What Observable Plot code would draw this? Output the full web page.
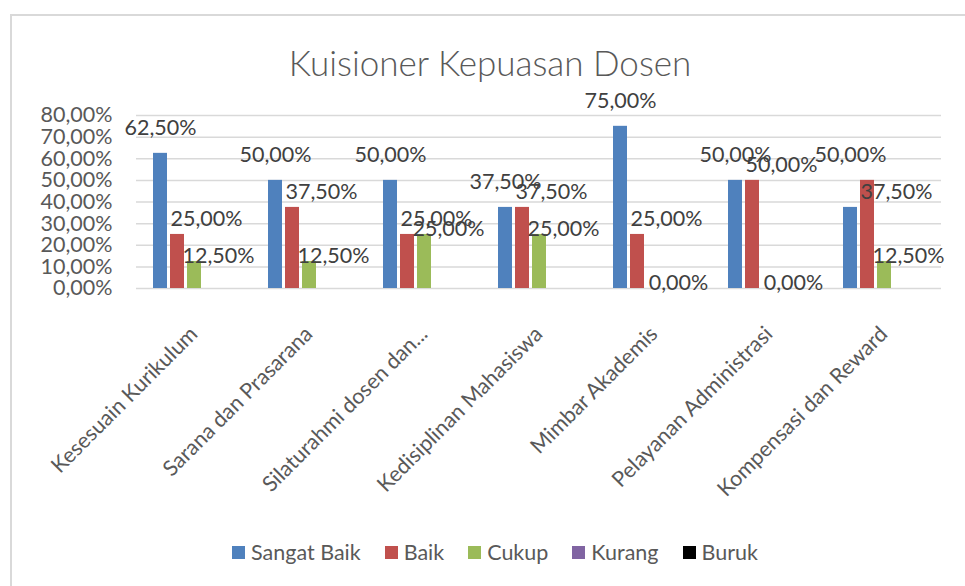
<!DOCTYPE html>
<html>
<head>
<meta charset="utf-8">
<script src="https://cdn.jsdelivr.net/npm/d3@7"></script>
<script src="https://cdn.jsdelivr.net/npm/@observablehq/plot@0.6"></script>
<style>
  html, body { margin: 0; padding: 0; background: #fff; }
  body { width: 965px; height: 586px; position: relative; overflow: hidden; font-family: Lato, "Open Sans", sans-serif; }
  #frame { position: absolute; left: 10px; top: 14px; width: 1000px; height: 1000px; border-left: 2px solid #d9d9d9; border-top: 2px solid #d9d9d9; }
  #title { position: absolute; left: 0; width: 980px; top: 39px; text-align: center; font-size: 35px; font-weight: 300; color: #595959; line-height: 46px; }
  #chart { position: absolute; left: 0; top: 80px; }
  #legend { position: absolute; left: 0; width: 990px; top: 539px; display: flex; justify-content: center; align-items: center; font-size: 21.5px; color: #595959; }
  .item { display: flex; align-items: center; margin: 0 12px; }
  .sw { width: 13px; height: 13px; margin-right: 6px; }
</style>
</head>
<body>
<div id="frame"></div>
<div id="title">Kuisioner Kepuasan Dosen</div>
<div id="chart"></div>
<div id="legend"></div>
<script>
const categories = ["Kesesuain Kurikulum", "Sarana dan Prasarana", "Silaturahmi dosen dan...", "Kedisiplinan Mahasiswa", "Mimbar Akademis", "Pelayanan Administrasi", "Kompensasi dan Reward"];
const series = ["Sangat Baik", "Baik", "Cukup", "Kurang", "Buruk"];
const colors = ["#4F81BD", "#C0504D", "#9BBB59", "#8064A2", "#000000"];

const sangatBaik = [62.5, 50, 50, 37.5, 75, 50, 37.5];
const baik = [25, 37.5, 25, 37.5, 25, 50, 50];
const cukup = [12.5, 12.5, 25, 25, 0, 0, 12.5];
const kurang = [0, 0, 0, 0, 0, 0, 0];
const buruk = [0, 0, 0, 0, 0, 0, 0];

// data label values as printed on the chart
const labelSangatBaik = [62.5, 50, 50, 37.5, 75, 50, 50];
const labelBaik = [25, 37.5, 25, 37.5, 25, 50, 37.5];
const labelCukup = [12.5, 12.5, 25, 25, 0, 0, 12.5];

const yTicks = [0, 10, 20, 30, 40, 50, 60, 70, 80];

const fmt = d => d.toFixed(2).replace(".", ",") + "%";

const seriesValues = [sangatBaik, baik, cukup, kurang, buruk];
const rows = [];
categories.forEach((c, i) => series.forEach((s, j) => rows.push({cat: c, series: s, value: seriesValues[j][i]})));

const labelRows = (arr, s) => categories.map((c, i) => ({cat: c, series: s, value: arr[i]}));

const FS = 21.5;
const chart = Plot.plot({
  width: 965,
  height: 440,
  marginLeft: 135,
  marginRight: 23,
  marginTop: 35,
  marginBottom: 232,
  style: {fontFamily: "Lato, 'Open Sans', sans-serif", background: "transparent", overflow: "visible"},
  fx: {domain: categories, padding: 0, label: null},
  x: {domain: series, paddingInner: 0.18, paddingOuter: 0.9, axis: null},
  y: {domain: [0, 80], axis: null},
  color: {domain: series, range: colors},
  marks: [
    Plot.gridY(yTicks, {stroke: "#d9d9d9", strokeOpacity: 1, strokeWidth: 1.5}),
    Plot.axisY(yTicks, {tickFormat: fmt, tickSize: 0, tickPadding: 24, fontSize: FS, fill: "#595959", label: null}),
    Plot.barY(rows, {fx: "cat", x: "series", y: "value", fill: "series"}),
    Plot.text(labelRows(labelSangatBaik, "Sangat Baik"), {fx: "cat", x: "series", y: "value", text: d => fmt(d.value), dy: -25, fontSize: FS, fill: "#404040"}),
    Plot.text(labelRows(labelBaik, "Baik"), {fx: "cat", x: "series", y: "value", text: d => fmt(d.value), dx: 29, dy: -15, fontSize: FS, fill: "#404040"}),
    Plot.text(labelRows(labelCukup, "Cukup"), {fx: "cat", x: "series", y: "value", text: d => fmt(d.value), dx: 24, dy: -5, fontSize: FS, fill: "#404040"}),
    Plot.axisFx({anchor: "bottom", tickRotate: -45, tickSize: 0, tickPadding: 42, fontSize: FS, fill: "#595959", label: null})
  ]
});
document.getElementById("chart").appendChild(chart);

const legend = document.getElementById("legend");
series.forEach((s, i) => {
  const it = document.createElement("div");
  it.className = "item";
  const sw = document.createElement("div");
  sw.className = "sw";
  sw.style.background = colors[i];
  const t = document.createElement("span");
  t.textContent = s;
  it.appendChild(sw);
  it.appendChild(t);
  legend.appendChild(it);
});
</script>
</body>
</html>
